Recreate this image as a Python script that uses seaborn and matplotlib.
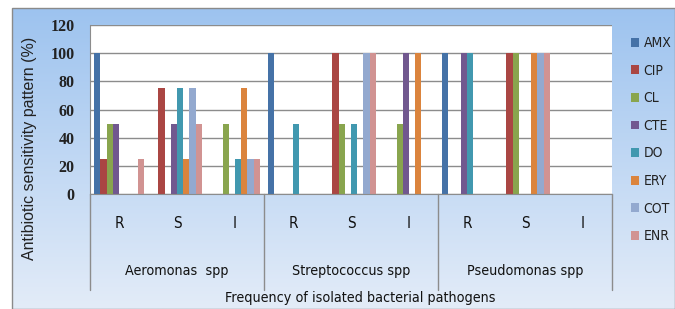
import matplotlib
matplotlib.use("Agg")
import matplotlib.pyplot as plt
import matplotlib.transforms as mtransforms
from matplotlib.patches import Rectangle
from matplotlib import font_manager
import numpy as np
import pandas as pd
import seaborn as sns

# ---- data ----
pathogens = ["Aeromonas  spp", "Streptococcus spp", "Pseudomonas spp"]
patterns = ["R", "S", "I"]
antibiotics = ["AMX", "CIP", "CL", "CTE", "DO", "ERY", "COT", "ENR"]

AMX = [100, 0, 0, 100, 0, 0, 100, 0, 0]
CIP = [25, 75, 0, 0, 100, 0, 0, 100, 0]
CL  = [50, 0, 50, 0, 50, 50, 0, 100, 0]
CTE = [50, 50, 0, 0, 0, 100, 100, 0, 0]
DO  = [0, 75, 25, 50, 50, 0, 100, 0, 0]
ERY = [0, 25, 75, 0, 0, 100, 0, 100, 0]
COT = [0, 75, 25, 0, 100, 0, 0, 100, 0]
ENR = [25, 50, 25, 0, 100, 0, 0, 100, 0]
series = {"AMX": AMX, "CIP": CIP, "CL": CL, "CTE": CTE,
          "DO": DO, "ERY": ERY, "COT": COT, "ENR": ENR}

colors = ["#4572A7", "#AA4643", "#89A54E", "#71588F",
          "#4198AF", "#DB843D", "#93A9CF", "#D19392"]

cats = [f"{p}|{s}" for p in pathogens for s in patterns]
rows = []
for ab in antibiotics:
    for c, v in zip(cats, series[ab]):
        rows.append({"cat": c, "antibiotic": ab, "value": v})
df = pd.DataFrame(rows)

sns.set_style("white")

names = {f.name for f in font_manager.fontManager.ttflist}
cond_files = [f.fname for f in font_manager.fontManager.ttflist
              if "Condensed" in f.fname and "DejaVuSans" in f.fname
              and "Bold" not in f.fname and "Oblique" not in f.fname]
if "Liberation Sans Narrow" in names:
    NARROW = font_manager.FontProperties(family="Liberation Sans Narrow")
elif cond_files:
    NARROW = font_manager.FontProperties(fname=cond_files[0])
else:
    NARROW = font_manager.FontProperties(family="DejaVu Sans", stretch="condensed")


def fp(size):
    p = NARROW.copy()
    p.set_size(size)
    return p


W, H = 675, 309
fig = plt.figure(figsize=(W / 100, H / 100), dpi=100, facecolor="white")

bg = fig.add_axes([12 / W, 0, 1 - 12 / W, (H - 8) / H], zorder=0)
grad = np.linspace(0, 1, 256).reshape(-1, 1)
top = np.array(matplotlib.colors.to_rgb("#9dc3ef"))
bot = np.array(matplotlib.colors.to_rgb("#e3ecf8"))
img = top[None, None, :] * (1 - grad[:, :, None]) + bot[None, None, :] * grad[:, :, None]
bg.imshow(img, aspect="auto", extent=[0, 1, 0, 1], origin="upper")
bg.set_axis_off()
fig.patches.append(Rectangle((12 / W, 0), 1 - 12 / W, (H - 8) / H,
                             transform=fig.transFigure, fill=False,
                             edgecolor="#8a8a8a", lw=1.0, zorder=1))

left, right = 90 / W, 612 / W
bottom, topy = (H - 194) / H, (H - 25) / H
ax = fig.add_axes([left, bottom, right - left, topy - bottom], zorder=2)
ax.set_facecolor("white")

sns.barplot(data=df, x="cat", y="value", hue="antibiotic", order=cats,
            hue_order=antibiotics, palette=colors, width=0.86,
            saturation=1, ax=ax, errorbar=None, legend=True, linewidth=0)

ax.set_ylim(0, 120)
ax.set_xlim(-0.5, len(cats) - 0.5)
yt = list(range(0, 121, 20))
ax.set_yticks(yt, [str(v) for v in yt], fontfamily="Liberation Serif",
              fontweight="bold", fontsize=11.5, color="#222222")
ax.yaxis.grid(True, color="#8c8c8c", lw=1.0)
ax.set_axisbelow(True)
for s in ["top", "right"]:
    ax.spines[s].set_visible(False)
ax.spines["left"].set_color("#8c8c8c")
ax.spines["bottom"].set_color("#8c8c8c")
ax.tick_params(axis="y", length=5, color="#8c8c8c", pad=6)

ax.set_xticks(range(len(cats)))
ax.set_xticklabels(patterns * len(pathogens), fontproperties=fp(11),
                   color="#111111")
ax.tick_params(axis="x", length=0, pad=16)
ax.set_xlabel("")
ax.set_ylabel("")

trans = mtransforms.blended_transform_factory(ax.transData, ax.transAxes)
ax_h = 194 - 25
sep_bot = -(290 - 194) / ax_h
for xb in [-0.5, 2.5, 5.5, 8.5]:
    ax.plot([xb, xb], [0, sep_bot], transform=trans, color="#8c8c8c",
            lw=1.0, clip_on=False)
for i, p in enumerate(pathogens):
    ax.text(3 * i + 1, -(271 - 194) / ax_h, p, transform=trans, ha="center",
            va="center", fontproperties=fp(10.3), color="#111111")

fig.text(360 / W, 1 - 298 / H, "Frequency of isolated bacterial pathogens",
         ha="center", va="center", fontproperties=fp(10.3), color="#111111")
fig.text(30 / W, 1 - 148 / H, "Antibiotic sensitivity pattern (%)",
         rotation=90, ha="center", va="center", fontfamily="Liberation Sans",
         fontsize=11.5, color="#222222")

handles, labels = ax.get_legend_handles_labels()
ax.legend_.remove()
leg = fig.legend(handles, labels, loc="upper left",
                 bbox_to_anchor=(631 / W, 1 - 36 / H), frameon=False,
                 prop=fp(10), handlelength=0.6,
                 handleheight=0.6, handletextpad=0.3, labelspacing=0.98,
                 borderpad=0, borderaxespad=0)
for t in leg.get_texts():
    t.set_color("#222222")

fig.savefig("out.png", dpi=100, facecolor="white")
